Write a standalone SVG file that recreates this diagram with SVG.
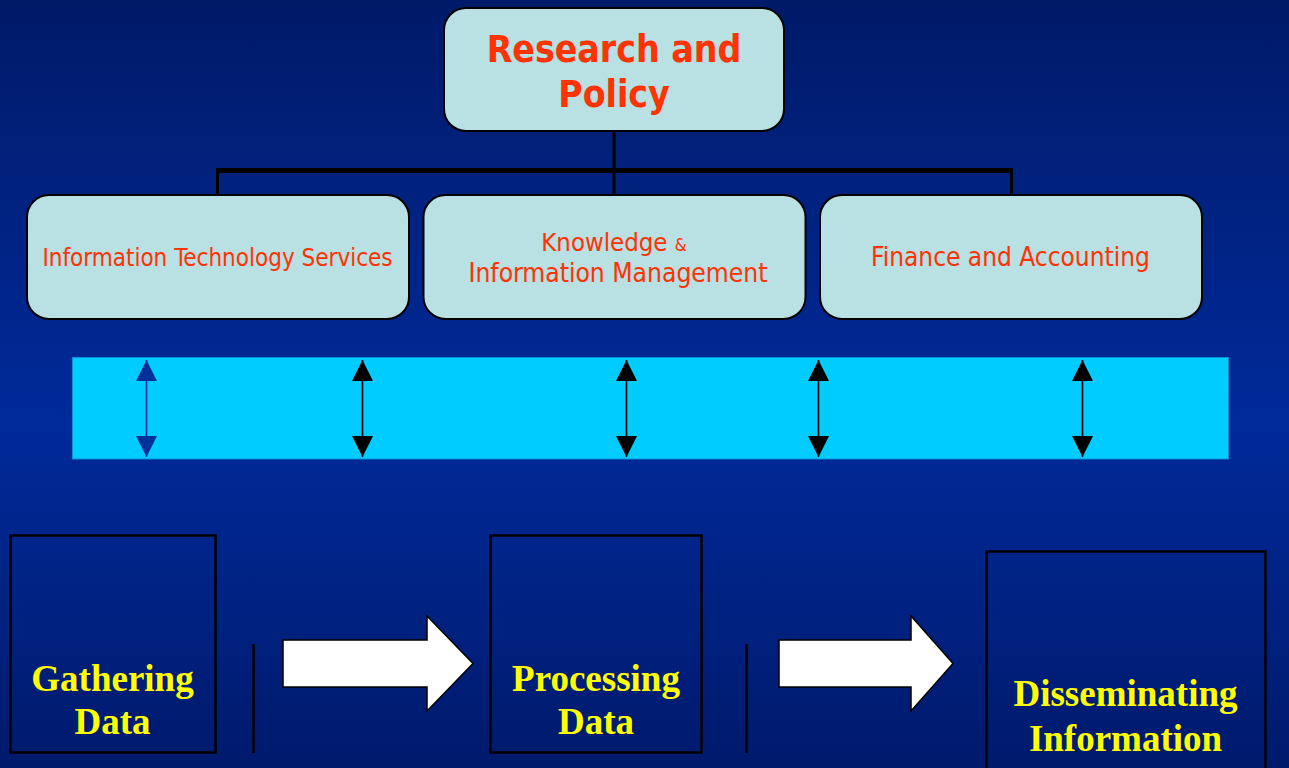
<svg xmlns="http://www.w3.org/2000/svg" width="1289" height="768" viewBox="0 0 1289 768">
  <defs>
    <linearGradient id="bg" x1="0" y1="0" x2="0" y2="1">
      <stop offset="0" stop-color="#001a68"/>
      <stop offset="0.55" stop-color="#002a9a"/>
      <stop offset="1" stop-color="#001a6c"/>
    </linearGradient>
    <marker id="headBlack" viewBox="0 0 21 21" markerUnits="userSpaceOnUse" markerWidth="21" markerHeight="21" refX="21" refY="10.5" orient="auto-start-reverse">
      <path d="M0,0 L21,10.5 L0,21 Z" fill="#000000"/>
    </marker>
    <marker id="headBlue" viewBox="0 0 21 21" markerUnits="userSpaceOnUse" markerWidth="21" markerHeight="21" refX="21" refY="10.5" orient="auto-start-reverse">
      <path d="M0,0 L21,10.5 L0,21 Z" fill="#00309c"/>
    </marker>
    <style>
      .org { fill: #b9e0e3; stroke: #000000; stroke-width: 2; }
      .orgText { font-family: "DejaVu Sans Condensed", "DejaVu Sans", sans-serif; font-stretch: condensed; fill: #ff3300; text-anchor: middle; }
      .title { font-weight: bold; font-size: 37px; }
      .stage { fill: none; stroke: #000000; stroke-width: 2.5; }
      .stageText { font-family: "Liberation Serif", "Times New Roman", serif; font-weight: bold; font-size: 37px; fill: #ffff00; text-anchor: middle; }
      .sep { stroke: #000000; stroke-width: 2.5; }
      .flow { fill: #ffffff; stroke: #000000; stroke-width: 1.5; stroke-linejoin: miter; }
      .tree { stroke: #000000; stroke-width: 3; fill: none; }
      .link { stroke-width: 1.6; fill: none; }
    </style>
  </defs>

  <!-- backdrop -->
  <rect x="0" y="0" width="1289" height="768" fill="url(#bg)"/>

  <!-- org chart connectors -->
  <g id="connectors">
    <line class="tree" x1="614" y1="131" x2="614" y2="170"/>
    <rect x="216" y="168" width="797" height="5" fill="#000000"/>
    <line class="tree" x1="217.5" y1="172" x2="217.5" y2="195"/>
    <line class="tree" x1="614" y1="172" x2="614" y2="195"/>
    <line class="tree" x1="1011.5" y1="172" x2="1011.5" y2="195"/>
  </g>

  <!-- top node -->
  <g id="research-policy">
    <rect class="org" x="444" y="8" width="340" height="123" rx="22" ry="22"/>
    <text class="orgText title" x="614" y="62">Research and</text>
    <text class="orgText title" x="614" y="107">Policy</text>
  </g>

  <!-- second tier -->
  <g id="its">
    <rect class="org" x="27" y="195" width="382" height="124" rx="22" ry="22"/>
    <text class="orgText" x="217.5" y="266" font-size="24">Information Technology Services</text>
  </g>
  <g id="kim">
    <rect class="org" x="423.5" y="195" width="382" height="124" rx="22" ry="22"/>
    <text class="orgText" x="614" y="251" font-size="25.5">Knowledge <tspan font-size="17">&amp;</tspan></text>
    <text class="orgText" x="618" y="282" font-size="26.2">Information Management</text>
  </g>
  <g id="finance">
    <rect class="org" x="820" y="195" width="382" height="124" rx="22" ry="22"/>
    <text class="orgText" x="1010.5" y="266" font-size="26">Finance and Accounting</text>
  </g>

  <!-- exchange band -->
  <g id="band">
    <rect x="72.5" y="357.5" width="1156" height="101.5" fill="#00ccff" stroke="#0a8fd0" stroke-width="1"/>
  </g>
  <g id="band-links">
    <line class="link" x1="146.5" y1="360" x2="146.5" y2="457" stroke="#00309c" marker-start="url(#headBlue)" marker-end="url(#headBlue)"/>
    <line class="link" x1="362.5" y1="360" x2="362.5" y2="457" stroke="#000000" marker-start="url(#headBlack)" marker-end="url(#headBlack)"/>
    <line class="link" x1="626.5" y1="360" x2="626.5" y2="457" stroke="#000000" marker-start="url(#headBlack)" marker-end="url(#headBlack)"/>
    <line class="link" x1="818.5" y1="360" x2="818.5" y2="457" stroke="#000000" marker-start="url(#headBlack)" marker-end="url(#headBlack)"/>
    <line class="link" x1="1082.5" y1="360" x2="1082.5" y2="457" stroke="#000000" marker-start="url(#headBlack)" marker-end="url(#headBlack)"/>
  </g>

  <!-- process stages -->
  <g id="gathering">
    <rect class="stage" x="10.5" y="535.5" width="205" height="217"/>
    <text class="stageText" x="112.5" y="691">Gathering</text>
    <text class="stageText" x="112.5" y="734">Data</text>
  </g>
  <g id="processing">
    <rect class="stage" x="490.5" y="535.5" width="211" height="217"/>
    <text class="stageText" x="596" y="691">Processing</text>
    <text class="stageText" x="596" y="734">Data</text>
  </g>
  <g id="disseminating">
    <rect class="stage" x="986.5" y="551.5" width="279" height="230"/>
    <text class="stageText" x="1125.5" y="706">Disseminating</text>
    <text class="stageText" x="1125.5" y="751">Information</text>
  </g>

  <!-- flow between stages -->
  <g id="flow">
    <line class="sep" x1="253.5" y1="644" x2="253.5" y2="753"/>
    <polygon class="flow" points="283,640 427,640 427,616 473,663.5 427,711 427,687 283,687"/>
    <line class="sep" x1="746.5" y1="644" x2="746.5" y2="753"/>
    <polygon class="flow" points="779,640 911,640 911,616 953,663.5 911,711 911,687 779,687"/>
  </g>
</svg>
